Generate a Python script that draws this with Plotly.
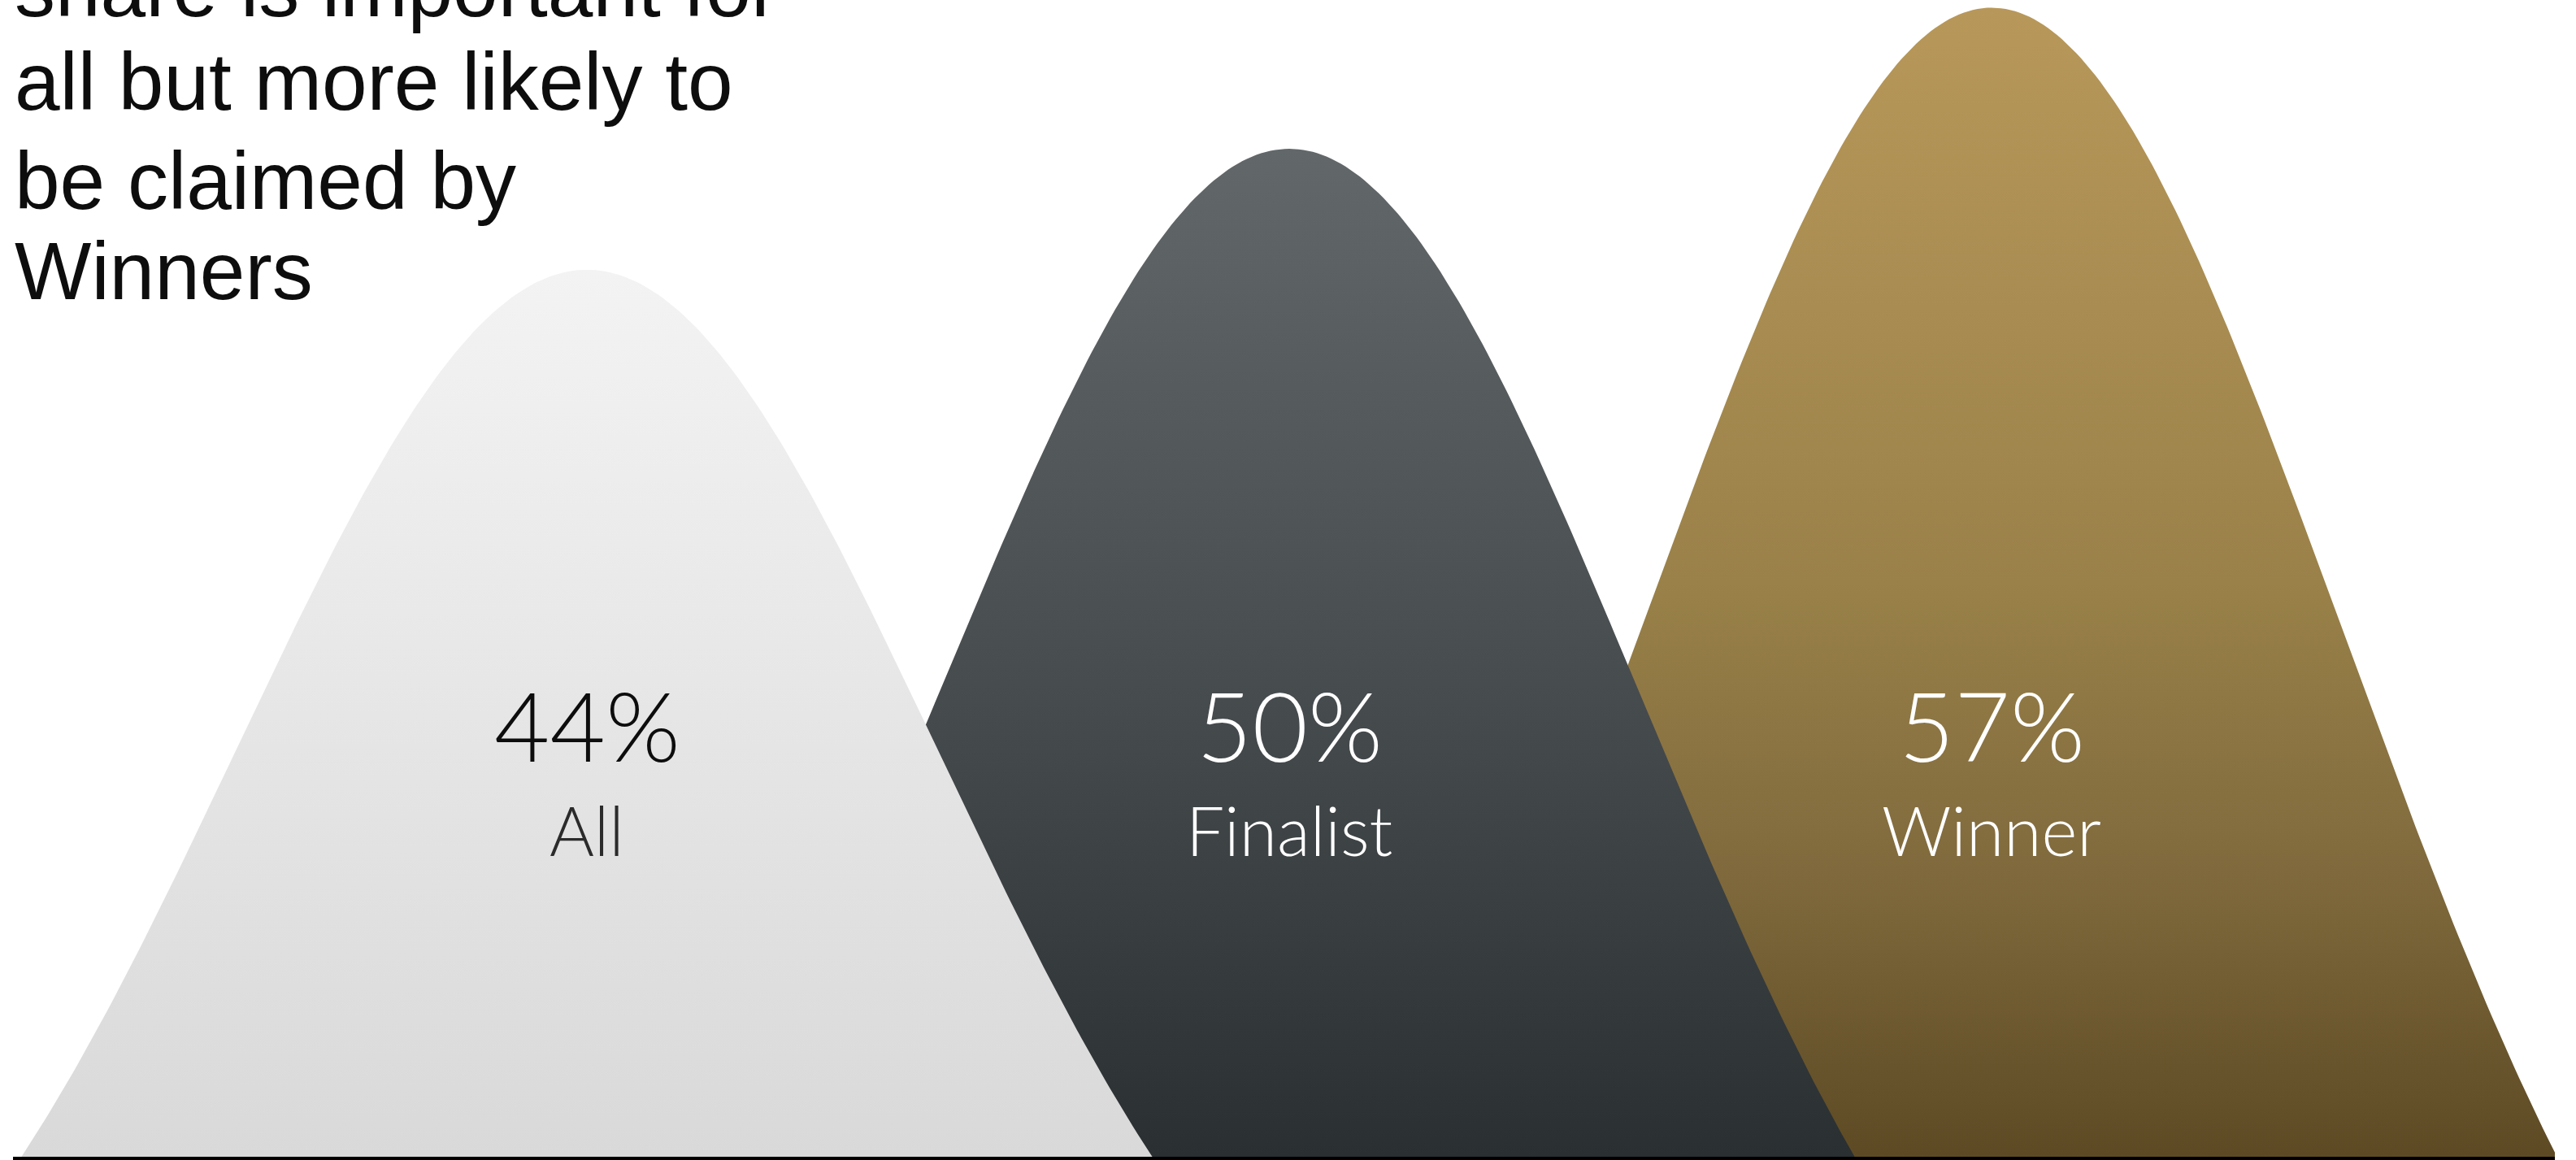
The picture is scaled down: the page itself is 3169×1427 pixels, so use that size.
import numpy as np
import plotly.graph_objects as go

# Share of respondents per group
categories = ["All", "Finalist", "Winner"]
values = [44, 50, 57]
value_labels = ["44%", "50%", "57%"]

# Headline text, one entry per line
headline = ["share is important for", "all but more likely to", "be claimed by", "Winners"]

# Vertical gradients (bottom -> top) for each mountain
gradients = {
    "All": [[0.0, "#d9d9d9"], [0.5, "#e6e6e6"], [1.0, "#f3f3f3"]],
    "Finalist": [[0.0, "#2a2f31"], [0.45, "#464b4e"], [1.0, "#626769"]],
    "Winner": [[0.0, "#5d4a24"], [0.25, "#806a3d"], [0.5, "#9a8149"], [1.0, "#b8985a"]],
}
value_colors = {"All": "#0d0d0d", "Finalist": "#ffffff", "Winner": "#ffffff"}
name_colors = {"All": "#2b2b2b", "Finalist": "#ffffff", "Winner": "#ffffff"}

W, H = 3169, 1427
HALF = 0.805      # half-width of each mountain in category units
SIGMA = 0.62      # bell sharpness (relative to half-width)
Y_TOP = 57.38


def bell(center, height, n=241):
    u = np.linspace(-1, 1, n)
    e1 = np.exp(-1 / (2 * SIGMA ** 2))
    prof = (np.exp(-u ** 2 / (2 * SIGMA ** 2)) - e1) / (1 - e1)
    return center + u * HALF, height * prof


fig = go.Figure()

# back to front: Winner, Finalist, All
for i in reversed(range(len(categories))):
    cat = categories[i]
    x, y = bell(i, values[i])
    fig.add_trace(go.Scatter(
        x=np.concatenate([x, [x[-1], x[0]]]),
        y=np.concatenate([y, [0, 0]]),
        mode="lines",
        line=dict(width=0),
        fill="toself",
        fillgradient=dict(type="vertical", colorscale=gradients[cat]),
        hoverinfo="skip",
        showlegend=False,
    ))

annotations = []
for i, cat in enumerate(categories):
    annotations.append(dict(
        x=i, y=21.45, xref="x", yref="y", text=value_labels[i], showarrow=False,
        xanchor="center", yanchor="middle",
        font=dict(family="Lato, 'Open Sans', sans-serif", size=118, weight=300,
                  color=value_colors[cat]),
    ))
    annotations.append(dict(
        x=i, y=16.25, xref="x", yref="y", text=cat, showarrow=False,
        xanchor="center", yanchor="middle",
        font=dict(family="Lato, 'Open Sans', sans-serif", size=84, weight=300,
                  color=name_colors[cat]),
    ))

# headline lines, placed by pixel row of their centre
plot_h = 1423
line_mid_px = [-15, 100, 222, 333]
for txt, ypx in zip(headline, line_mid_px):
    annotations.append(dict(
        x=0, y=(plot_h - ypx) / plot_h, xref="paper", yref="paper", text=txt,
        showarrow=False, xanchor="left", yanchor="middle",
        font=dict(family="'Liberation Sans', Arial, sans-serif",
                  size=100, color="#0d0d0d"),
    ))

fig.update_layout(
    width=W, height=H,
    margin=dict(l=16, r=26, t=0, b=4),
    paper_bgcolor="white", plot_bgcolor="white",
    xaxis=dict(range=[-0.8171, 2.802], showgrid=False, zeroline=False,
               showticklabels=False, ticks="", showline=True,
               linecolor="#000000", linewidth=4),
    yaxis=dict(range=[0, Y_TOP], showgrid=False, zeroline=False,
               showticklabels=False, ticks="", showline=False),
    annotations=annotations,
    showlegend=False,
)

fig.write_html("out.html")
